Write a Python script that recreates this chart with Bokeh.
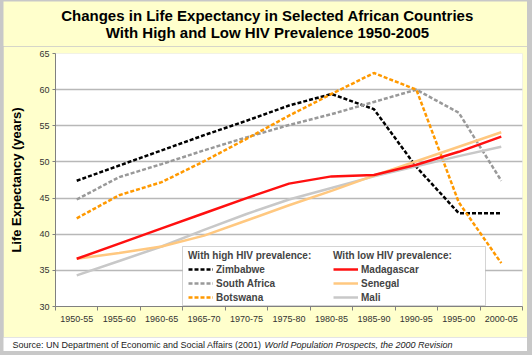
from bokeh.plotting import figure
from bokeh.layouts import column
from bokeh.models import (Range1d, FixedTicker, Legend, LegendItem, Label, BoxAnnotation)
from bokeh.embed import file_html
from bokeh.resources import INLINE

periods = ["1950-55", "1955-60", "1960-65", "1965-70", "1970-75", "1975-80",
           "1980-85", "1985-90", "1990-95", "1995-00", "2000-05"]
zimbabwe = [47.4, 49.5, 51.6, 53.7, 55.7, 57.8, 59.4, 57.3, 49.3, 42.9, 42.9]
south_africa = [44.8, 47.9, 49.7, 51.6, 53.4, 55.1, 56.6, 58.3, 60.0, 56.8, 47.4]
botswana = [42.2, 45.4, 47.2, 50.1, 53.2, 56.4, 59.4, 62.3, 60.0, 44.4, 36.0]
madagascar = [36.6, 38.7, 40.8, 42.9, 45.0, 47.0, 48.0, 48.2, 49.6, 51.4, 53.5]
senegal = [36.6, 37.4, 38.3, 39.8, 41.9, 44.0, 46.0, 48.1, 50.1, 52.1, 54.1]
mali = [34.3, 36.3, 38.3, 40.6, 42.8, 44.8, 46.4, 48.0, 49.4, 50.8, 52.1]
y_ticks = [30, 35, 40, 45, 50, 55, 60, 65]

title_lines = ["Changes in Life Expectancy in Selected African Countries",
               "With High and Low HIV Prevalence 1950-2005"]

FONT = "Liberation Sans"
YELLOW = "#FFFFCC"
GRAY = "#C8C8C8"
W = 524

xs = list(range(len(periods)))


def blank_fig(h, fill):
    # pixel-like ranges: x from left, y from top
    f = figure(width=W, height=h, output_backend="svg", toolbar_location=None,
               x_axis_type=None, y_axis_type=None, title=None,
               x_range=Range1d(0, W), y_range=Range1d(h, 0),
               min_border=0, min_border_left=0, min_border_right=0,
               min_border_top=0, min_border_bottom=0, frame_align=False)
    f.border_fill_color = fill
    f.background_fill_color = fill
    f.outline_line_color = None
    f.grid.grid_line_color = None
    return f


# ---- title strip (page y 1..46)
tf = blank_fig(45, YELLOW)
for txt, cy in zip(title_lines, [13.5, 30.5]):
    tf.add_layout(Label(x=264, y=cy, text=txt,
                        text_font=FONT, text_font_size="15px", text_font_style="bold",
                        text_align="center", text_baseline="middle", text_color="black"))

# ---- main chart
p = figure(width=W, height=291, output_backend="svg", toolbar_location=None,
           x_range=Range1d(-0.5, len(periods) - 0.5), y_range=Range1d(30, 65),
           min_border_left=52, min_border_right=5, min_border_top=7, min_border_bottom=31,
           frame_align=False)
p.border_fill_color = YELLOW
p.background_fill_color = "white"
p.outline_line_color = None

xa = p.xaxis[0]
xa.ticker = FixedTicker(ticks=xs, minor_ticks=[i - 0.5 for i in range(len(periods) + 1)])
xa.major_label_overrides = {i: lab for i, lab in enumerate(periods)}
xa.major_tick_out = 0
xa.major_tick_in = 0
xa.minor_tick_out = 4
xa.minor_tick_in = 0
xa.minor_tick_line_color = "#808080"
xa.axis_line_color = "#808080"
xa.major_label_standoff = 5
xa.major_label_text_font = FONT
xa.major_label_text_font_size = "9px"
xa.major_label_text_color = "#333333"

ya = p.yaxis[0]
ya.ticker = FixedTicker(ticks=y_ticks)
ya.minor_tick_line_color = None
ya.major_tick_out = 3
ya.major_tick_in = 0
ya.major_tick_line_color = "#808080"
ya.axis_line_color = "#808080"
ya.major_label_standoff = 3
ya.major_label_text_font = FONT
ya.major_label_text_font_size = "9px"
ya.major_label_text_color = "#333333"
ya.axis_label = "Life Expectancy (years)"
ya.axis_label_text_font = FONT
ya.axis_label_text_font_size = "13px"
ya.axis_label_text_font_style = "bold"
ya.axis_label_text_color = "black"
ya.axis_label_standoff = 12

p.xgrid.grid_line_color = None
p.ygrid.ticker = FixedTicker(ticks=y_ticks[1:-1])
p.ygrid.grid_line_color = "#B8B8B8"
p.ygrid.grid_line_width = 1.5

dash = "4 2"
r_zim = p.line(xs, zimbabwe, line_color="black", line_width=2.5, line_dash=dash)
r_sa = p.line(xs, south_africa, line_color="#999999", line_width=2.5, line_dash=dash)
r_bot = p.line(xs, botswana, line_color="#FF9900", line_width=2.5, line_dash=dash)
r_mal = p.line(xs, mali, line_color="#C8C8C8", line_width=2.5)
r_sen = p.line(xs, senegal, line_color="#FFC880", line_width=2.5)
r_mad = p.line(xs, madagascar, line_color="#FF1010", line_width=2.5)

p.add_layout(BoxAnnotation(left=127, right=430, bottom=1, top=60,
                           left_units="screen", right_units="screen",
                           bottom_units="screen", top_units="screen",
                           fill_color="white", fill_alpha=1,
                           line_color="#707070", line_width=1))


def make_legend(title, items, x):
    lg = Legend(items=items, location=(x, 3), title=title,
                title_text_font=FONT, title_text_font_size="10px", title_text_font_style="bold",
                title_standoff=2,
                label_text_font=FONT, label_text_font_size="10px", label_text_font_style="bold",
                glyph_width=25, glyph_height=12, label_height=12, spacing=2,
                padding=0, margin=0, label_standoff=3,
                background_fill_alpha=0, border_line_color=None)
    p.add_layout(lg, "center")


make_legend("With high HIV prevalence:",
            [LegendItem(label="Zimbabwe", renderers=[r_zim]),
             LegendItem(label="South Africa", renderers=[r_sa]),
             LegendItem(label="Botswana", renderers=[r_bot])], 133)
make_legend("With low HIV prevalence:",
            [LegendItem(label="Madagascar", renderers=[r_mad]),
             LegendItem(label="Senegal", renderers=[r_sen]),
             LegendItem(label="Mali", renderers=[r_mal])], 278)

# ---- source strip (page y 337..351)
sf = blank_fig(14, "white")
sf.add_layout(Label(x=9, y=7.5,
                    text="Source: UN Department of Economic and Social Affairs (2001)",
                    text_font=FONT, text_font_size="9px", text_baseline="middle",
                    text_color="#222222"))
sf.add_layout(Label(x=261, y=7.5,
                    text="World Population Prospects, the 2000 Revision",
                    text_font=FONT, text_font_size="9px", text_font_style="italic",
                    text_baseline="middle", text_color="#222222"))

layout = column(tf, p, sf, spacing=0,
                styles={"background-color": GRAY, "padding": "1px 5px 4px 3px"})

open("out.html", "w").write(file_html(layout, INLINE))
